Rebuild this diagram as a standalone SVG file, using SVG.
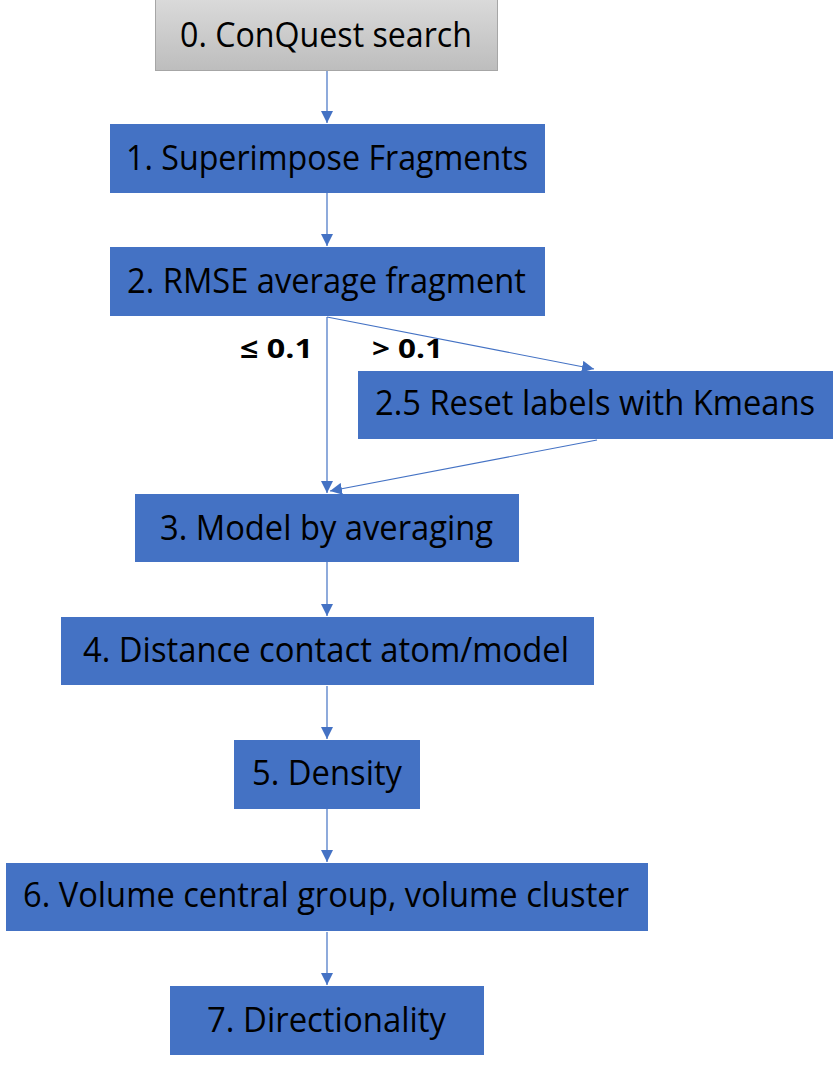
<svg xmlns="http://www.w3.org/2000/svg" width="839" height="1066" viewBox="0 0 839 1066">
<style>
.box{fill:#4472c4}
.t{font-family:"Open Sans","Liberation Sans",sans-serif;font-size:34px;fill:#000;text-anchor:middle}
.lbl{font-family:"Open Sans","Liberation Sans",sans-serif;font-size:27px;font-weight:bold;fill:#000}
.c{stroke:#4472c4;stroke-width:1.2;fill:none;marker-end:url(#ah)}
</style>
<defs>
<linearGradient id="gray" x1="0" y1="0" x2="0" y2="1">
<stop offset="0" stop-color="#dadada"/>
<stop offset="1" stop-color="#bdbdbd"/>
</linearGradient>
<marker id="ah" viewBox="0 0 10 10" refX="10" refY="5" markerWidth="12" markerHeight="12" markerUnits="userSpaceOnUse" orient="auto">
<path d="M0,0 L10,5 L0,10 z" fill="#4472c4"/>
</marker>
</defs>
<g id="connectors">
<line class="c" x1="327" y1="71" x2="327" y2="123"/>
<line class="c" x1="327" y1="193" x2="327" y2="246"/>
<line class="c" x1="327" y1="317" x2="327" y2="493"/>
<line class="c" x1="327" y1="317" x2="594" y2="369"/>
<line class="c" x1="597" y1="440" x2="330" y2="491"/>
<line class="c" x1="327" y1="562" x2="327" y2="616"/>
<line class="c" x1="327" y1="686" x2="327" y2="739"/>
<line class="c" x1="327" y1="809" x2="327" y2="862"/>
<line class="c" x1="327" y1="932" x2="327" y2="985"/>
</g>
<g id="labels">
<text class="lbl" x="240" y="358" textLength="73" lengthAdjust="spacingAndGlyphs">≤ 0.1</text>
<text class="lbl" x="372" y="358" textLength="71" lengthAdjust="spacingAndGlyphs">&gt; 0.1</text>
</g>
<g id="n0">
<rect x="155.5" y="-1" width="342" height="71.5" fill="url(#gray)" stroke="#a6a6a6" stroke-width="1"/>
<text class="t" x="326" y="47" textLength="292" lengthAdjust="spacingAndGlyphs">0. ConQuest search</text>
</g>
<g id="n1">
<rect class="box" x="110" y="124" width="435" height="69"/>
<text class="t" x="327" y="170" textLength="402" lengthAdjust="spacingAndGlyphs">1. Superimpose Fragments</text>
</g>
<g id="n2">
<rect class="box" x="110" y="247" width="435" height="69"/>
<text class="t" x="326.5" y="293" textLength="399" lengthAdjust="spacingAndGlyphs">2. RMSE average fragment</text>
</g>
<g id="n25">
<rect class="box" x="358" y="371" width="475" height="68"/>
<text class="t" x="595" y="415" textLength="440" lengthAdjust="spacingAndGlyphs">2.5 Reset labels with Kmeans</text>
</g>
<g id="n3">
<rect class="box" x="135" y="494" width="384" height="68"/>
<text class="t" x="326.5" y="540" textLength="333" lengthAdjust="spacingAndGlyphs">3. Model by averaging</text>
</g>
<g id="n4">
<rect class="box" x="61" y="617" width="533" height="68"/>
<text class="t" x="326" y="662" textLength="486" lengthAdjust="spacingAndGlyphs">4. Distance contact atom/model</text>
</g>
<g id="n5">
<rect class="box" x="234" y="740" width="186" height="69"/>
<text class="t" x="327" y="785" textLength="150" lengthAdjust="spacingAndGlyphs">5. Density</text>
</g>
<g id="n6">
<rect class="box" x="6" y="863" width="642" height="68"/>
<text class="t" x="326" y="907" textLength="606" lengthAdjust="spacingAndGlyphs">6. Volume central group, volume cluster</text>
</g>
<g id="n7">
<rect class="box" x="170" y="986" width="314" height="69"/>
<text class="t" x="326.5" y="1032" textLength="239" lengthAdjust="spacingAndGlyphs">7. Directionality</text>
</g>
</svg>
